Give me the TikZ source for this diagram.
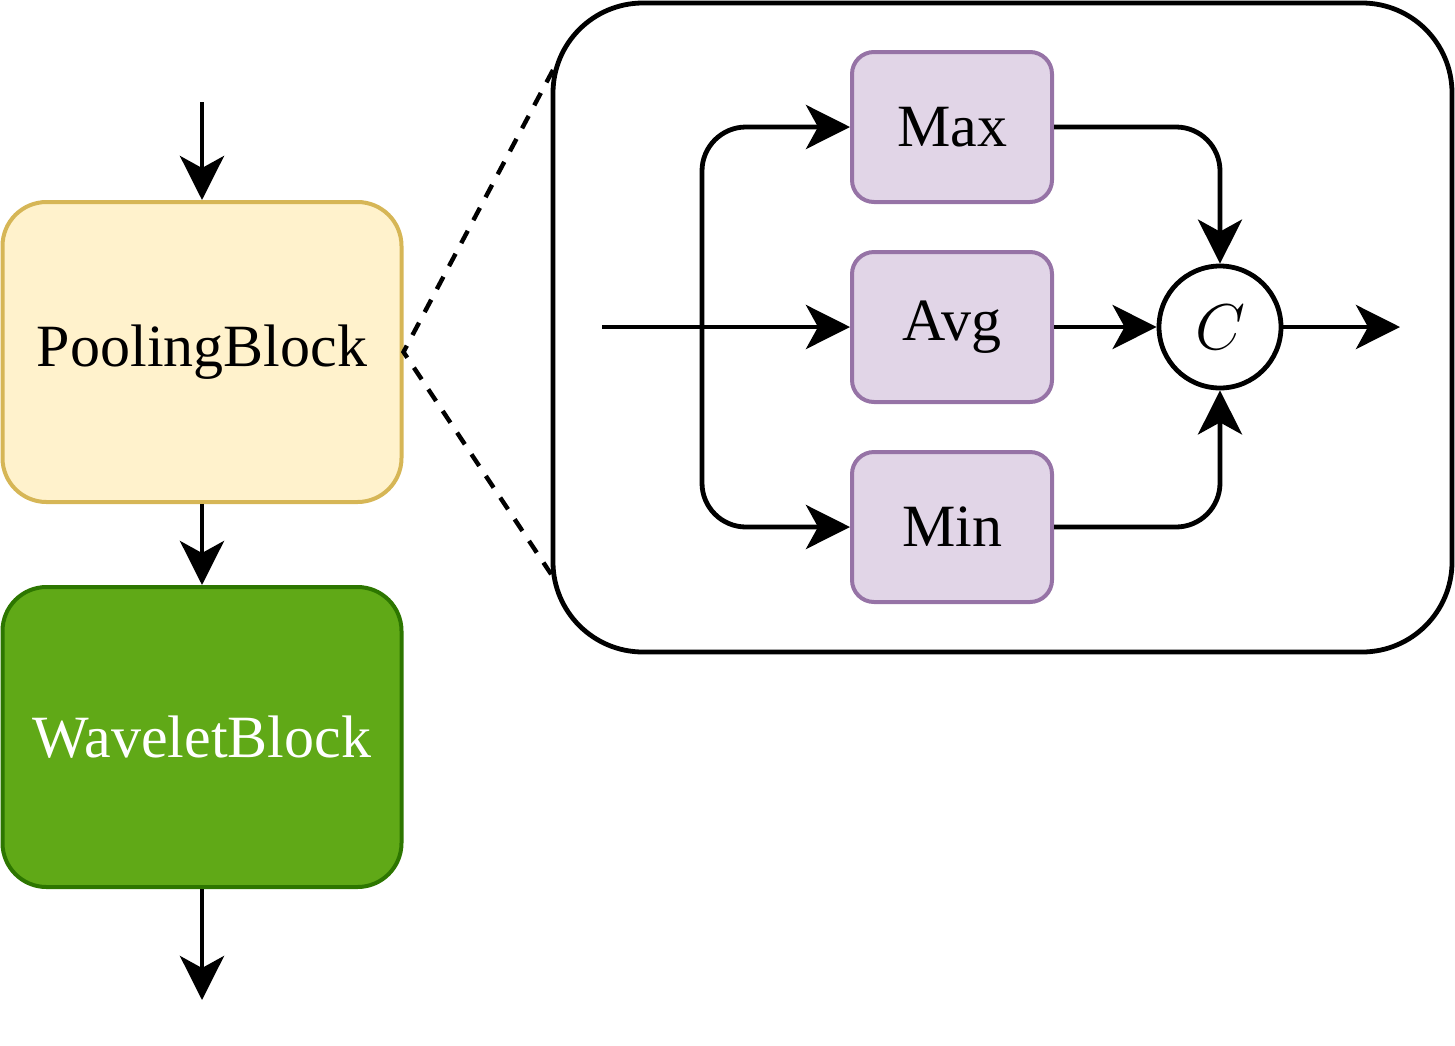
\documentclass[tikz,border=0pt]{standalone}
\usepackage{graphicx}
\usepackage{fontspec}
\setmainfont{Liberation Serif}
\usepackage{tikz}
\usetikzlibrary{arrows.meta,calc,positioning}

\definecolor{poolfill}{HTML}{FFF2CC}
\definecolor{pooldraw}{HTML}{D6B656}
\definecolor{wavefill}{HTML}{60A917}
\definecolor{wavedraw}{HTML}{2D7600}
\definecolor{opfill}{HTML}{E1D5E7}
\definecolor{opdraw}{HTML}{9673A6}

\begin{document}
\begin{tikzpicture}[x=0.5pt,y=-0.5pt,
  arr/.style={line width=2.4pt,-{Stealth[length=22pt,width=22pt,inset=6pt]}},
  block/.style={rounded corners=22pt,line width=2pt,minimum width=199.5pt,minimum height=150pt,
    inner sep=0pt,font=\fontsize{30}{36}\selectfont},
  op/.style={rounded corners=11pt,line width=2pt,fill=opfill,draw=opdraw,minimum width=100pt,
    minimum height=75pt,inner sep=0pt,font=\fontsize{30}{36}\selectfont}]
\useasboundingbox (0,0) rectangle (1455,1045);
% left column
\node[block,fill=poolfill,draw=pooldraw] (pool) at (202,352) {PoolingBlock};
\node[block,fill=wavefill,draw=wavedraw,text=white] (wave) at (202,737) {WaveletBlock};
\coordinate (top) at (202,102);
\coordinate (bot) at (202,1000);
\draw[arr] (top) -- (pool);
\draw[arr] (pool) -- (wave);
\draw[arr] (wave) -- (bot);
% zoomed view
\node[draw,line width=2.4pt,rounded corners=45pt,minimum width=449.5pt,minimum height=324.5pt] (zoom) at (1002.5,327.5) {};
\coordinate (zt) at (553,70);
\coordinate (zb) at (553,577);
\draw[line width=2.2pt,dash pattern=on 7pt off 6pt] (zt) -- (pool.east) -- (zb);
\node[op] (max) at (952,127) {Max};
\node[op] (avg) at (952,327) {Avg};
\node[op] (min) at (952,527) {Min};
\node[draw,circle,line width=2.4pt,minimum size=61pt,inner sep=0pt,font=\fontsize{24.88}{30}\selectfont] (cat) at (1220,327) {\scalebox{1.3}{$C$}};
\coordinate (in) at (602,327);
\coordinate (split) at (702,327);
\coordinate (out) at (1400,327);
\draw[arr] (in) -- (avg);
\draw[arr,rounded corners=22pt] (split) |- (max);
\draw[arr,rounded corners=22pt] (split) |- (min);
\draw[arr,rounded corners=22pt] (max) -| (cat);
\draw[arr,rounded corners=22pt] (min) -| (cat);
\draw[arr] (avg) -- (cat);
\draw[arr] (cat) -- (out);
\end{tikzpicture}
\end{document}
